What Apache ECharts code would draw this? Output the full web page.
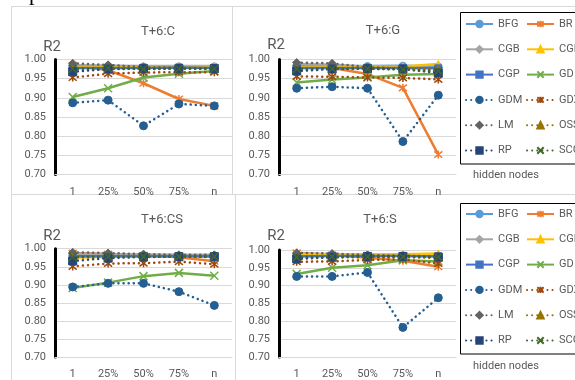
<!DOCTYPE html>
<html><head><meta charset="utf-8">
<script src="https://cdn.jsdelivr.net/npm/echarts@6/dist/echarts.min.js"></script>
<style>html,body{margin:0;padding:0;background:#fff}#c{width:575px;height:380px}</style>
</head><body><div id="c"></div>
<script>
const categories = ['1','25%','50%','75%','n'];
const algorithms = ['BFG','BR','CGB','CGF','CGP','GD','GDM','GDX','LM','OSS','RP','SCG'];
const panelTitles = ['T+6:C','T+6:G','T+6:CS','T+6:S'];
const yTicks = [0.70,0.75,0.80,0.85,0.90,0.95,1.00];

// T+6:C
const C_BFG=[0.983,0.983,0.982,0.982,0.982];
const C_BR =[0.985,0.972,0.938,0.897,0.879];
const C_CGB=[0.985,0.984,0.983,0.983,0.983];
const C_CGF=[0.980,0.980,0.980,0.981,0.981];
const C_CGP=[0.978,0.978,0.978,0.979,0.978];
const C_GD =[0.902,0.925,0.953,0.963,0.970];
const C_GDM=[0.887,0.894,0.827,0.884,0.879];
const C_GDX=[0.953,0.963,0.966,0.967,0.967];
const C_LM =[0.990,0.986,0.980,0.978,0.977];
const C_OSS=[0.975,0.977,0.977,0.977,0.977];
const C_RP =[0.968,0.975,0.976,0.976,0.976];
const C_SCG=[0.976,0.977,0.975,0.976,0.976];
// T+6:G
const G_BFG=[0.982,0.982,0.983,0.984,0.982];
const G_BR =[0.986,0.978,0.962,0.926,0.752];
const G_CGB=[0.988,0.986,0.982,0.980,0.978];
const G_CGF=[0.980,0.980,0.981,0.982,0.988];
const G_CGP=[0.978,0.978,0.978,0.978,0.977];
const G_GD =[0.940,0.948,0.953,0.960,0.962];
const G_GDM=[0.925,0.929,0.925,0.786,0.907];
const G_GDX=[0.956,0.955,0.953,0.952,0.948];
const G_LM =[0.992,0.990,0.980,0.976,0.968];
const G_OSS=[0.975,0.976,0.975,0.976,0.975];
const G_RP =[0.970,0.975,0.976,0.975,0.965];
const G_SCG=[0.975,0.976,0.976,0.974,0.970];
// T+6:CS
const CS_BFG=[0.982,0.982,0.982,0.981,0.981];
const CS_BR =[0.988,0.985,0.982,0.976,0.965];
const CS_CGB=[0.986,0.985,0.984,0.983,0.983];
const CS_CGF=[0.975,0.978,0.979,0.979,0.978];
const CS_CGP=[0.979,0.979,0.979,0.979,0.979];
const CS_GD =[0.891,0.906,0.924,0.933,0.925];
const CS_GDM=[0.894,0.904,0.904,0.881,0.843];
const CS_GDX=[0.951,0.959,0.960,0.964,0.957];
const CS_LM =[0.990,0.988,0.985,0.983,0.983];
const CS_OSS=[0.976,0.977,0.978,0.978,0.977];
const CS_RP =[0.966,0.974,0.977,0.978,0.978];
const CS_SCG=[0.977,0.978,0.978,0.978,0.978];
// T+6:S
const S_BFG=[0.985,0.986,0.985,0.985,0.984];
const S_BR =[0.992,0.986,0.978,0.970,0.953];
const S_CGB=[0.990,0.989,0.987,0.986,0.985];
const S_CGF=[0.988,0.988,0.988,0.988,0.990];
const S_CGP=[0.982,0.983,0.983,0.983,0.982];
const S_GD =[0.933,0.950,0.957,0.971,0.968];
const S_GDM=[0.926,0.926,0.937,0.783,0.866];
const S_GDX=[0.967,0.968,0.972,0.974,0.962];
const S_LM =[0.992,0.990,0.986,0.984,0.982];
const S_OSS=[0.978,0.979,0.980,0.980,0.978];
const S_RP =[0.975,0.980,0.982,0.982,0.980];
const S_SCG=[0.980,0.981,0.981,0.981,0.980];

const panelData = [
  [C_BFG,C_BR,C_CGB,C_CGF,C_CGP,C_GD,C_GDM,C_GDX,C_LM,C_OSS,C_RP,C_SCG],
  [G_BFG,G_BR,G_CGB,G_CGF,G_CGP,G_GD,G_GDM,G_GDX,G_LM,G_OSS,G_RP,G_SCG],
  [CS_BFG,CS_BR,CS_CGB,CS_CGF,CS_CGP,CS_GD,CS_GDM,CS_GDX,CS_LM,CS_OSS,CS_RP,CS_SCG],
  [S_BFG,S_BR,S_CGB,S_CGF,S_CGP,S_GD,S_GDM,S_GDX,S_LM,S_OSS,S_RP,S_SCG]
];

const colors = ['#5B9BD5','#ED7D31','#A5A5A5','#FFC000','#4472C4','#70AD47','#255E91','#9E480E','#636363','#997300','#264478','#43682B'];
const X = 'path://M1,1L9,9M9,1L1,9';
const STAR = 'path://M1,1L9,9M9,1L1,9M5,0L5,10';
const symbols = ['circle',STAR,'diamond','triangle','rect',X,'circle',STAR,'diamond','triangle','rect',X];
const symSizes = [7,8,7,7,7,8,8,8,8,7,8,8];
const FONT = 'Roboto';
const TXT = '#595959';

const grids = [
  {left:55, top:59.5, width:177, height:115},
  {left:279, top:59.5, width:177, height:115},
  {left:55, top:248.7, width:177, height:114},
  {left:279, top:250, width:177, height:114}
];

const xAxes = grids.map((g,i)=>({
  type:'category', gridIndex:i, data:categories, boundaryGap:true,
  axisLine:{show:true,lineStyle:{color:'#d9d9d9',width:1}},
  axisTick:{show:false},
  axisLabel:{color:TXT,fontSize:11,fontFamily:FONT,margin:12}
}));
const yAxes = grids.map((g,i)=>({
  type:'value', gridIndex:i, min:yTicks[0], max:yTicks[yTicks.length-1], interval:0.05,
  axisLine:{show:true,lineStyle:{color:'#000',width:3}},
  axisTick:{show:false},
  splitLine:{lineStyle:{color:'#d9d9d9',width:1}},
  axisLabel:{color:TXT,fontSize:11,fontFamily:FONT,margin:9,formatter:v=>v.toFixed(2)}
}));

const series = [];
panelData.forEach((arrs,p)=>{
  arrs.forEach((d,k)=>{
    const dotted = k>=6;
    const isPath = symbols[k].startsWith('path');
    series.push({
      name:algorithms[k], type:'line', xAxisIndex:p, yAxisIndex:p, data:d,
      symbol:symbols[k], symbolSize:symSizes[k], showSymbol:true, animation:false,
      z: 2+k,
      lineStyle:{color:colors[k], width:2.5, type: dotted?[0.1,5]:'solid', cap: dotted?'round':'butt'},
      itemStyle: isPath ? {color:colors[k], borderColor:colors[k], borderWidth:1.5} : {color:colors[k], borderColor:colors[k], borderWidth:1}
    });
  });
});

const col1 = ['BFG','CGB','CGP','GDM','LM','RP'];
const col2 = ['BR','CGF','GD','GDX','OSS','SCG'];
const legends = [];
[25, 215].forEach(y0=>{
  [[col1,465],[col2,526]].forEach(([names,left])=>{
    names.forEach((nm,r)=>{
      legends.push({data:[nm], left, top: y0 + r*25.3 - 6.5, orient:'vertical',
        itemWidth:27, itemHeight:8, selectedMode:false, padding:0,
        textStyle:{color:TXT,fontSize:11,fontFamily:FONT}});
    });
  });
});

const graphic = [
  {type:'line', shape:{x1:11.5,y1:6,x2:11.5,y2:380}, style:{stroke:'#d9d9d9',lineWidth:1}},
  {type:'line', shape:{x1:11,y1:6.5,x2:575,y2:6.5}, style:{stroke:'#d9d9d9',lineWidth:1}},
  {type:'line', shape:{x1:232.5,y1:6,x2:232.5,y2:194}, style:{stroke:'#d9d9d9',lineWidth:1}},
  {type:'line', shape:{x1:11,y1:194.5,x2:575,y2:194.5}, style:{stroke:'#d9d9d9',lineWidth:1}},
  {type:'line', shape:{x1:235.5,y1:194,x2:235.5,y2:380}, style:{stroke:'#d9d9d9',lineWidth:1}},
  {type:'rect', shape:{x:460.5,y:12.5,width:130,height:151.5}, style:{fill:null,stroke:'#000',lineWidth:1}},
  {type:'rect', shape:{x:460.5,y:203.5,width:130,height:150.5}, style:{fill:null,stroke:'#000',lineWidth:1}},
  {type:'text', x:473, y:175, style:{text:'hidden nodes',fill:TXT,fontSize:11,fontFamily:FONT,textVerticalAlign:'middle'}},
  {type:'text', x:473, y:366, style:{text:'hidden nodes',fill:TXT,fontSize:11,fontFamily:FONT,textVerticalAlign:'middle'}},
  {type:'text', x:158, y:32, style:{text:panelTitles[0],fill:TXT,fontSize:13,fontFamily:FONT,textAlign:'center',textVerticalAlign:'middle'}},
  {type:'text', x:383, y:31, style:{text:panelTitles[1],fill:TXT,fontSize:13,fontFamily:FONT,textAlign:'center',textVerticalAlign:'middle'}},
  {type:'text', x:162, y:220, style:{text:panelTitles[2],fill:TXT,fontSize:13,fontFamily:FONT,textAlign:'center',textVerticalAlign:'middle'}},
  {type:'text', x:380, y:220, style:{text:panelTitles[3],fill:TXT,fontSize:13,fontFamily:FONT,textAlign:'center',textVerticalAlign:'middle'}},
  {type:'text', x:52, y:47, style:{text:'R2',fill:TXT,fontSize:15,fontFamily:FONT,textAlign:'center',textVerticalAlign:'middle'}},
  {type:'text', x:276, y:45, style:{text:'R2',fill:TXT,fontSize:15,fontFamily:FONT,textAlign:'center',textVerticalAlign:'middle'}},
  {type:'text', x:52, y:236, style:{text:'R2',fill:TXT,fontSize:15,fontFamily:FONT,textAlign:'center',textVerticalAlign:'middle'}},
  {type:'text', x:276, y:236, style:{text:'R2',fill:TXT,fontSize:15,fontFamily:FONT,textAlign:'center',textVerticalAlign:'middle'}},
  {type:'text', x:29, y:-17, style:{text:'p',fill:'#000',fontSize:22,fontFamily:'Liberation Serif'}}
];

const chart = echarts.init(document.getElementById('c'), null, {renderer:'canvas'});
chart.setOption({
  animation:false,
  backgroundColor:'#fff',
  grid:grids, xAxis:xAxes, yAxis:yAxes, series,
  legend:legends,
  graphic
});
</script></body></html>
